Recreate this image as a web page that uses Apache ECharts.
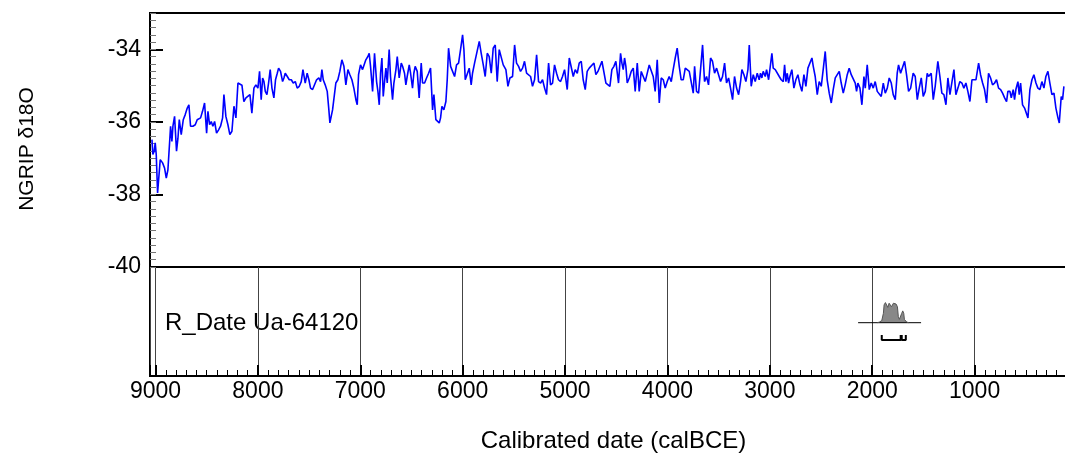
<!DOCTYPE html>
<html><head><meta charset="utf-8">
<script src="https://cdn.jsdelivr.net/npm/echarts@6/dist/echarts.min.js"></script>
<style>html,body{margin:0;padding:0;background:#fff;overflow:hidden}#c{width:1065px;height:453px}</style>
</head><body><div id="c"></div>
<script>
// NGRIP d18O record (calBCE years)
const years = [9035,9026,9013,9003,8993,8980,8970,8954,8931,8912,8895,8879,8860,8853,8840,8830,8814,8795,8781,8768,8749,8729,8710,8690,8674,8658,8635,8612,8593,8580,8560,8541,8521,8501,8488,8472,8456,8440,8423,8404,8384,8365,8345,8332,8313,8293,8274,8254,8234,8215,8195,8176,8156,8137,8117,8098,8078,8059,8039,8020,8000,7984,7968,7954,7941,7928,7912,7896,7880,7863,7844,7828,7811,7798,7779,7759,7746,7733,7713,7694,7674,7655,7635,7616,7596,7577,7560,
7538,7519,7502,7486,7466,7447,7427,7405,7388,7375,7362,7343,7323,7307,7297,7284,7271,7252,7239,7219,7200,7180,7160,7141,7121,7102,7082,7063,7043,7030,7017,6998,6978,6965,6946,6926,6913,6900,6880,6861,6841,6828,6815,6802,6789,6776,6763,6750,6737,6718,6705,6685,6672,6652,6639,6620,6600,6587,6568,6555,6542,6522,6509,6490,6477,6464,6444,6425,6405,6392,6372,6353,6333,6314,6294,6281,6262,6249,6229,6216,6203,6184,6164,6151,6138,6118,6099,6079,
6060,6040,6021,6001,5988,5975,5956,5936,5917,5904,5884,5865,5838,5819,5799,5780,5760,5741,5721,5702,5682,5663,5643,5624,5604,5591,5578,5558,5539,5513,5493,5474,5454,5435,5415,5396,5376,5357,5337,5318,5298,5278,5259,5239,5220,5200,5181,5161,5142,5122,5103,5083,5064,5044,5025,5005,4979,4959,4940,4920,4901,4881,4862,4842,4823,4803,4784,4764,4745,4718,4699,4679,4660,4640,4621,4601,
4582,4562,4543,4523,4504,4491,4478,4458,4445,4432,4419,4406,4393,4373,4354,4334,4315,4295,4276,4256,4237,4217,4198,4178,4159,4139,4120,4100,4080,4061,4041,4022,4002,3983,3963,3944,3924,3905,3885,3866,3846,3826,3807,3787,3768,3748,3735,3716,3696,3677,3657,3638,3618,3599,3579,3560,3540,3520,3501,3481,3462,3442,3423,3403,3384,3364,3345,3325,3305,3286,3273,3253,3234,3214,3201,3182,3162,3143,3123,
3104,3091,3078,3065,3045,3032,3012,2999,2980,2967,2947,2928,2908,2889,2869,2856,2843,2830,2817,2804,2785,2765,2746,2726,2706,2687,2667,2648,2628,2609,2589,2576,2557,2537,2518,2498,2479,2459,2440,2420,2400,2381,2361,2342,2322,2303,2283,2264,2244,2225,2205,2186,2166,2153,2140,2120,2101,2081,2068,2049,2029,2010,1990,1971,1951,1932,1912,1892,1873,1853,1834,1814,1795,1775,1756,1743,1723,1704,1684,1665,1645,1625,
1600,1580,1560,1541,1521,1502,1482,1463,1450,1437,1424,1404,1385,1359,1339,1320,1300,1280,1261,1241,1222,1202,1183,1163,1144,1124,1105,1085,1066,1046,1026,1007,987,961,942,922,903,883,864,844,825,805,786,766,746,727,707,688,675,655,642,623,610,597,577,564,551,532,512,499,479,460,440,421,401,382,362,343,323,304,284,265,245,225,206,186,173,154,141,128];
const d18O = [-36.49,-36.90,-36.81,-36.58,-36.90,-37.96,-37.96,-37.04,-37.13,-37.27,-37.55,-37.32,-36.45,-36.12,-36.54,-36.12,-35.85,-36.81,-36.45,-35.94,-36.35,-35.94,-35.80,-35.62,-35.53,-36.12,-36.12,-36.08,-35.94,-35.99,-35.89,-35.71,-35.48,-36.31,-35.71,-36.08,-35.99,-36.12,-35.99,-36.31,-36.22,-36.12,-35.89,-35.25,-35.85,-36.08,-36.35,-36.26,-35.57,-35.89,-34.93,-34.98,-34.99,-35.44,-35.34,-35.30,-35.25,-35.76,-35.07,-34.98,-35.07,-34.61,-35.39,-34.79,-34.89,-35.16,-35.25,-34.93,-34.56,-35.07,-35.34,-34.84,-34.66,-34.52,-34.61,-34.89,-34.79,-34.66,-34.75,-34.84,-34.84,-34.93,-34.89,-35.07,-35.02,-34.89,-34.56,
-34.93,-34.66,-34.84,-35.07,-35.11,-35.11,-34.84,-34.79,-34.89,-34.56,-34.84,-34.98,-35.16,-35.67,-36.03,-35.85,-35.67,-35.62,-34.93,-34.84,-34.61,-34.29,-34.47,-34.98,-34.56,-34.70,-34.84,-35.07,-35.39,-35.53,-34.70,-34.43,-34.56,-34.61,-34.29,-34.20,-34.11,-34.47,-35.16,-34.11,-34.89,-35.16,-35.53,-34.66,-34.24,-35.30,-34.89,-34.52,-34.93,-34.01,-34.75,-35.39,-34.93,-34.56,-34.20,-34.79,-34.38,-34.47,-34.66,-34.98,-34.75,-34.43,-34.66,-35.07,-34.66,-34.47,-34.61,-35.34,-34.38,-34.93,-34.93,-34.79,-34.66,-34.52,-35.67,-35.25,-35.94,-35.89,-36.03,-35.89,-35.57,-35.67,-35.44,-34.84,-33.97,-34.47,-34.52,-34.75,
-34.43,-34.38,-34.01,-33.60,-34.01,-34.84,-34.79,-34.52,-34.98,-34.66,-34.38,-34.33,-33.78,-34.11,-34.43,-34.75,-34.11,-34.20,-34.66,-33.97,-33.88,-34.89,-34.01,-34.06,-34.43,-34.38,-34.56,-35.02,-34.79,-34.75,-33.88,-34.38,-34.47,-34.61,-34.52,-34.33,-34.66,-34.61,-34.75,-35.02,-34.84,-34.15,-34.89,-34.93,-34.84,-35.07,-35.25,-34.38,-34.98,-34.93,-34.43,-34.66,-34.84,-34.89,-34.75,-34.56,-35.11,-34.24,-34.29,-34.75,-34.56,-34.66,-34.38,-34.33,-34.84,-35.11,-34.61,-34.52,-34.47,-34.38,-34.70,-34.61,-34.66,-34.33,-34.33,-34.93,
-34.98,-35.02,-34.56,-34.47,-34.33,-34.38,-34.93,-34.11,-34.38,-34.56,-34.24,-34.47,-34.93,-34.79,-34.61,-34.52,-35.16,-34.38,-35.16,-34.61,-34.56,-34.89,-34.89,-34.43,-34.38,-34.75,-35.16,-34.29,-35.48,-34.79,-34.84,-35.07,-34.89,-34.75,-34.89,-34.56,-34.24,-33.97,-34.47,-34.84,-34.84,-34.52,-34.56,-34.61,-34.66,-35.21,-34.47,-35.16,-35.21,-34.56,-33.88,-34.89,-34.75,-34.98,-34.24,-34.33,-34.66,-34.52,-34.47,-34.89,-34.75,-34.38,-34.93,-34.79,-35.07,-35.39,-34.75,-35.07,-35.25,-34.89,-34.56,-34.70,-34.89,-34.56,-33.88,-35.02,-34.70,-34.89,-34.66,
-34.84,-34.66,-34.79,-34.61,-34.75,-34.56,-34.84,-34.89,-34.11,-34.52,-34.56,-34.61,-34.75,-34.84,-34.89,-34.43,-34.89,-34.66,-34.93,-34.75,-34.56,-35.07,-34.84,-34.70,-34.98,-35.16,-34.70,-35.02,-34.52,-34.47,-34.24,-34.47,-34.75,-35.25,-34.89,-35.02,-34.56,-34.06,-34.84,-35.21,-35.48,-35.11,-34.79,-34.75,-34.61,-34.93,-35.21,-34.98,-34.70,-34.52,-34.70,-34.66,-34.93,-35.16,-34.93,-35.07,-35.53,-34.75,-35.07,-34.43,-35.11,-34.93,-35.07,-34.89,-35.16,-35.11,-35.30,-34.93,-35.21,-35.07,-34.79,-34.93,-35.25,-35.39,-34.66,-34.43,-34.66,-34.70,-34.33,-34.70,-35.16,-35.07,
-34.66,-34.75,-35.39,-35.07,-34.79,-35.30,-35.16,-34.66,-34.75,-34.79,-34.66,-35.39,-35.02,-34.33,-34.75,-35.21,-35.25,-35.53,-34.79,-35.25,-35.21,-34.56,-35.25,-35.07,-34.89,-34.93,-35.07,-34.93,-35.16,-35.44,-34.84,-34.84,-34.84,-34.38,-34.70,-34.93,-35.11,-35.48,-34.66,-34.79,-34.98,-34.93,-34.84,-35.07,-35.11,-35.21,-35.34,-35.44,-35.16,-35.16,-35.34,-35.11,-35.39,-35.11,-34.89,-35.25,-34.93,-35.53,-35.62,-35.57,-35.89,-35.11,-34.84,-34.70,-34.93,-35.07,-35.11,-34.89,-35.07,-34.75,-34.61,-34.93,-35.25,-35.21,-35.62,-35.89,-36.03,-35.30,-35.39,-35.02];

// R_Date Ua-64120 calibrated probability
const dateLabel = 'R_Date Ua-64120';
const distYears = [1950,1930,1907,1891,1884,1871,1858,1848,1835,1822,1812,1803,1793,1780,1767,1754,1745,1735,1721,1712,1702,1692,1686,1676,1663,1643];
const distProb  = [0,0.03,0.10,0.45,0.86,0.97,0.94,0.74,0.94,0.97,0.77,0.74,0.94,0.97,0.90,0.77,0.29,0.16,0.16,0.45,0.57,0.45,0.16,0.07,0.03,0];
const baseRange = [2138, 1523];
const rangeStart = [1907, 1712];
const rangeEnd   = [1722, 1672];
const yTicks = [-40, -38, -36, -34];
const xTicks = [9000, 8000, 7000, 6000, 5000, 4000, 3000, 2000, 1000];

const FONT = 'Liberation Sans, Arial, sans-serif';
const FS = 23;
const FS_BIG = 24;
const XMIN = 0, XMAX = 9054;

const lineData = years.map((y, i) => [y, d18O[i]]);
const distData = distYears.map((y, i) => [y, distProb[i]]);
const bracketSeries = rangeStart.map((s, i) => ({
  type: 'line', xAxisIndex: 1, yAxisIndex: 2, symbol: 'none', silent: true,
  lineStyle: { color: '#000', width: 2 },
  data: [[s, -0.594], [s, -0.836], [rangeEnd[i], -0.836], [rangeEnd[i], -0.594]]
}));

const chart = echarts.init(document.getElementById('c'));
chart.setOption({
  animation: false,
  backgroundColor: '#fff',
  textStyle: { fontFamily: FONT },
  grid: [
    { left: 150, width: 927, top: 13, height: 254, outerBoundsMode: 'none', containLabel: false,
      show: true, borderColor: '#000', borderWidth: 2, backgroundColor: 'transparent' },
    { left: 150, width: 927, top: 267, height: 109, outerBoundsMode: 'none', containLabel: false,
      show: true, borderColor: '#000', borderWidth: 2, backgroundColor: 'transparent' }
  ],
  xAxis: [
    { gridIndex: 0, type: 'value', min: XMIN, max: XMAX, inverse: true, show: false },
    { gridIndex: 1, type: 'value', min: XMIN, max: XMAX, inverse: true, interval: 1000, position: 'bottom',
      axisLine: { show: true, onZero: false, lineStyle: { color: '#000', width: 2 } },
      axisTick: { show: true, inside: true, length: 11, lineStyle: { color: '#000', width: 2 } },
      axisLabel: { show: true, margin: 4, color: '#000', fontSize: FS, fontFamily: FONT,
        formatter: v => (xTicks.indexOf(Math.round(v)) >= 0 ? String(Math.round(v)) : '') },
      splitLine: { show: true, lineStyle: { color: '#444', width: 1 } },
      name: 'Calibrated date (calBCE)', nameLocation: 'middle', nameGap: 53,
      nameTextStyle: { color: '#000', fontSize: FS_BIG, fontFamily: FONT } },
    { gridIndex: 1, type: 'value', min: XMIN, max: XMAX, inverse: true, interval: 100, position: 'bottom',
      axisLine: { show: false, onZero: false },
      axisTick: { show: true, inside: true, length: 6, lineStyle: { color: '#000', width: 1 } },
      axisLabel: { show: false }, splitLine: { show: false } }
  ],
  yAxis: [
    { gridIndex: 0, type: 'value', min: -40, max: -33, interval: 2, position: 'left',
      axisLine: { show: true, onZero: false, lineStyle: { color: '#000', width: 2 } },
      axisTick: { show: true, inside: true, length: 13, lineStyle: { color: '#000', width: 2 } },
      axisLabel: { show: true, margin: 9, color: '#000', fontSize: FS, fontFamily: FONT,
        formatter: v => (yTicks.indexOf(Math.round(v)) >= 0 ? String(Math.round(v)) : '') },
      splitLine: { show: false } },
    { gridIndex: 0, type: 'value', min: -40, max: -33, interval: 0.2, position: 'left',
      axisLine: { show: false, onZero: false },
      axisTick: { show: true, inside: true, length: 6, lineStyle: { color: '#777', width: 1 } },
      axisLabel: { show: false }, splitLine: { show: false } },
    { gridIndex: 1, type: 'value', min: -2.575, max: 2.69, show: false }
  ],
  graphic: [
    { type: 'text', x: 27, y: 149, rotation: Math.PI / 2,
      style: { text: 'NGRIP δ18O', fill: '#000', fontSize: 21, fontFamily: FONT,
        textAlign: 'center', textVerticalAlign: 'middle', align: 'center', verticalAlign: 'middle' } },
    { type: 'text', x: 165, y: 323,
      style: { text: dateLabel, fill: '#000', fontSize: FS_BIG, fontFamily: FONT,
        textAlign: 'left', textVerticalAlign: 'middle', align: 'left', verticalAlign: 'middle' } }
  ],
  series: [
    { type: 'line', xAxisIndex: 0, yAxisIndex: 0, data: lineData, symbol: 'none', silent: true,
      lineStyle: { color: '#0000ff', width: 1.6 } },
    { type: 'line', xAxisIndex: 1, yAxisIndex: 2, data: [[baseRange[0], 0], [baseRange[1], 0]], symbol: 'none', silent: true,
      lineStyle: { color: '#000', width: 1 } },
    { type: 'line', xAxisIndex: 1, yAxisIndex: 2, data: distData, symbol: 'none', silent: true,
      lineStyle: { color: '#555', width: 1 }, areaStyle: { color: '#888', opacity: 1 } }
  ].concat(bracketSeries)
});
</script></body></html>
